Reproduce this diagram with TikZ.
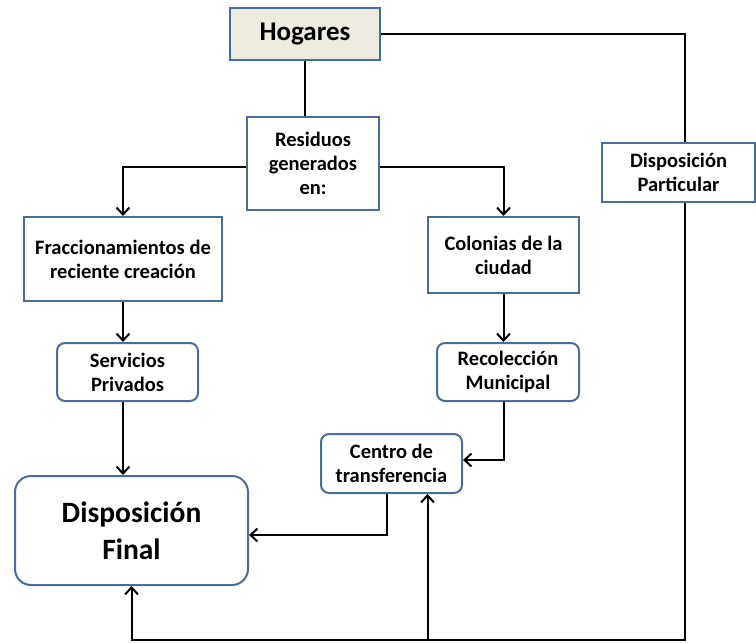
\documentclass[tikz,border=0pt]{standalone}
\usepackage{fontspec}
\setmainfont{Carlito}
\usetikzlibrary{arrows.meta,calc,backgrounds}
\definecolor{bord}{HTML}{4A6C9B}
\definecolor{beige}{HTML}{EEECE1}
\tikzset{
  box/.style={draw=bord, line width=2pt, fill=white, inner sep=0pt, align=center,
    font=\fontsize{20.5}{24}\selectfont\bfseries},
  rbox/.style={box, rounded corners=8pt},
  conn/.style={line width=2pt, black},
  arr/.style={conn, -{Straight Barb[length=7pt,width=13pt,line width=2pt]}}
}
\begin{document}
\begin{tikzpicture}[x=1pt,y=-1pt]
\useasboundingbox (0,0) rectangle (756,643);
\node[box, fill=beige, minimum width=150pt, minimum height=52pt,
  font=\fontsize{27}{32}\selectfont\bfseries] (hog) at (305,34) {Hogares};
\node[box, minimum width=132pt, minimum height=93pt] (res) at (313,163.5) {Residuos\\generados\\en:};
\node[box, minimum width=198pt, minimum height=84pt] (fra) at (123,259) {Fraccionamientos de\\reciente creación};
\node[box, minimum width=151pt, minimum height=76pt] (col) at (503.5,255) {Colonias de la\\ciudad};
\node[rbox, minimum width=141pt, minimum height=58pt] (ser) at (127.5,372) {Servicios\\Privados};
\node[rbox, minimum width=142pt, minimum height=58pt] (rec) at (508,372) {Recolección\\Municipal};
\node[rbox, minimum width=141pt, minimum height=59pt] (cen) at (391.5,463.5) {Centro de\\transferencia};
\node[rbox, rounded corners=16pt, minimum width=233pt, minimum height=109pt,
  font=\fontsize{29.5}{37}\selectfont\bfseries] (fin) at (131.5,530.5) {Disposición\\Final};
\node[box, minimum width=153pt, minimum height=59pt] (par) at (678.5,172.5) {Disposición\\Particular};
\coordinate (br) at (685,640);
\coordinate (cb) at ($(cen.south)+(36,0)$);
\coordinate (ca) at ($(cen.south)+(-4.5,0)$);
\begin{scope}[on background layer]
\draw[arr] (hog.east) -| (br) -| (fin.south);
\end{scope}
\draw[conn] (hog.south) -- (hog.south |- res.north);
\draw[arr] ($(res.west)+(0,3.5)$) -| (fra.north);
\draw[arr] ($(res.east)+(0,3.5)$) -| (col.north);
\draw[arr] (fra.south) -- (fra.south |- ser.north);
\draw[arr] (fra.south |- ser.south) -- (fra.south |- fin.north);
\draw[arr] (col.south) -- (col.south |- rec.north);
\draw[arr] (col.south |- rec.south) |- ($(cen.east)+(0,-3.5)$);
\draw[arr] (ca) |- ($(fin.east)+(0,4.5)$);
\draw[arr] (cb |- br) -- (cb);
\end{tikzpicture}
\end{document}
